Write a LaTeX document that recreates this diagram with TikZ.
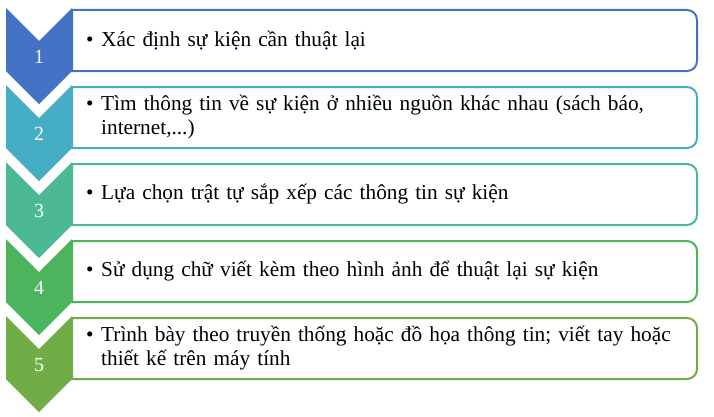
\documentclass[tikz,border=0pt]{standalone}
\usepackage{fontspec}
\setmainfont{Liberation Serif}
\definecolor{cA}{RGB}{68,114,196}
\definecolor{cB}{RGB}{70,174,196}
\definecolor{cC}{RGB}{76,184,150}
\definecolor{cD}{RGB}{76,180,92}
\definecolor{cE}{RGB}{112,173,71}
\tikzset{
  boxline/.style={line width=2bp, fill=white},
  chev/.style={draw=none},
  num/.style={text=white, font=\fontsize{20bp}{23bp}\selectfont, inner sep=0pt},
  item/.style={anchor=west, inner sep=0pt, text width=600bp, align=left, font=\fontsize{21.3bp}{24bp}\selectfont},
}
\newcommand{\bul}{\hyphenpenalty=10000\makebox[15bp][l]{\textbullet}}
\newcommand{\ind}{\hspace*{15bp}}
\begin{document}
\begin{tikzpicture}[x=1bp,y=1bp]
\useasboundingbox (0,0) rectangle (714,416);
\foreach \i/\c/\t in {0/cA/{Xác định sự kiện cần thuật lại},
  1/cB/{Tìm thông tin về sự kiện ở nhiều nguồn khác nhau (sách báo,\\\ind internet,...)},
  2/cC/{Lựa chọn trật tự sắp xếp các thông tin sự kiện},
  3/cD/{Sử dụng chữ viết kèm theo hình ảnh để thuật lại sự kiện},
  4/cE/{Trình bày theo truyền thống hoặc đồ họa thông tin; viết tay hoặc\\\ind thiết kế trên máy tính}}{
  \pgfmathsetmacro{\yt}{406-77*\i}
  \pgfmathsetmacro{\yb}{345-77*\i}
  \pgfmathsetmacro{\ym}{375.5-77*\i}
  \pgfmathsetmacro{\ct}{408-77*\i}
  \pgfmathsetmacro{\cn}{375-77*\i}
  \pgfmathsetmacro{\cs}{345-77*\i}
  \pgfmathsetmacro{\cp}{312-77*\i}
  \pgfmathsetmacro{\cy}{359-77*\i}
  \draw[boxline, draw=\c] (72,\yt) -- (687,\yt) arc[start angle=90,end angle=0,radius=10]
     -- (697,\yb+10) arc[start angle=0,end angle=-90,radius=10] -- (72,\yb) -- cycle;
  \fill[chev, fill=\c] (6,\ct) -- (39,\cn) -- (72,\ct) -- (72,\cs) -- (39,\cp) -- (6,\cs) -- cycle;
  \node[num] (n\i) at (39,\cy) {\the\numexpr\i+1\relax};
  \node[item] (t\i) at (86,\ym) {\bul\t};
}
\end{tikzpicture}
\end{document}
